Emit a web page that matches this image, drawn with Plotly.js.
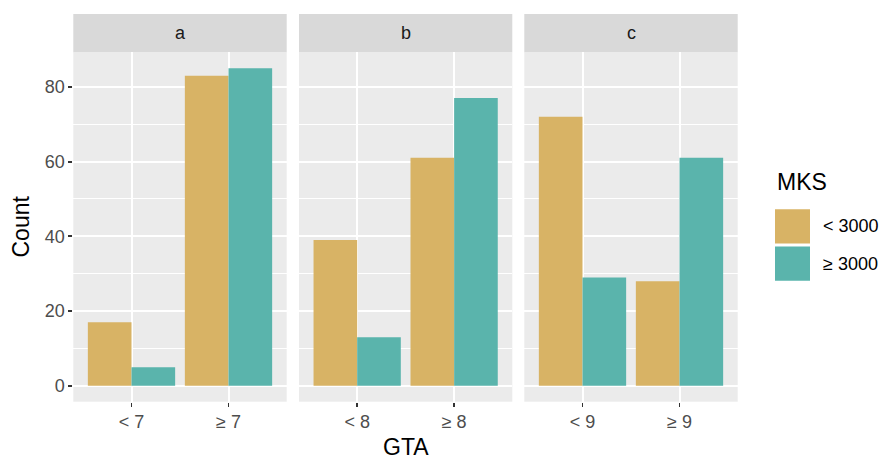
<!DOCTYPE html>
<html>
<head>
<meta charset="utf-8">
<script src="https://cdn.plot.ly/plotly-3.0.1.min.js"></script>
<style>html,body{margin:0;padding:0;background:#fff}#chart{width:886px;height:460px}</style>
</head>
<body>
<div id="chart"></div>
<script>
// ---- data ----
const panels = ['a', 'b', 'c'];
const catsA = ['< 7', '≥ 7'];
const catsB = ['< 8', '≥ 8'];
const catsC = ['< 9', '≥ 9'];
const lowA = [17, 83];   // MKS < 3000
const highA = [5, 85];   // MKS ≥ 3000
const lowB = [39, 61];
const highB = [13, 77];
const lowC = [72, 28];
const highC = [29, 61];
const seriesNames = ['< 3000', '≥ 3000'];
const yTicks = [0, 20, 40, 60, 80];

// ---- style ----
const colLow = '#D8B365';
const colHigh = '#5AB4AC';
const W = 886, H = 460;
const font = 'Liberation Sans, Arial, sans-serif';
const px = v => v / W;
const py = v => 1 - v / H;

const xDomains = [[73.3, 286.7], [299, 512.3], [524.3, 737.7]];
const yDomain = [py(401.7), py(52.3)];
const catSets = [catsA, catsB, catsC];
const lows = [lowA, lowB, lowC];
const highs = [highA, highB, highC];

const traces = [];
const layout = {
  width: W, height: H,
  margin: {l: 0, r: 0, t: 0, b: 0},
  paper_bgcolor: '#ffffff',
  plot_bgcolor: '#EBEBEB',
  barmode: 'group',
  bargap: 0.1,
  bargroupgap: 0,
  showlegend: false,
  font: {family: font, color: '#4D4D4D'},
  shapes: [],
  annotations: []
};

panels.forEach((p, i) => {
  const sfx = i === 0 ? '' : String(i + 1);
  const xa = 'x' + sfx, ya = 'y' + sfx;
  traces.push({type: 'bar', x: catSets[i], y: lows[i], name: seriesNames[0], xaxis: xa, yaxis: ya,
    marker: {color: colLow, line: {width: 0}}, hoverinfo: 'skip'});
  traces.push({type: 'bar', x: catSets[i], y: highs[i], name: seriesNames[1], xaxis: xa, yaxis: ya,
    marker: {color: colHigh, line: {width: 0}}, hoverinfo: 'skip'});
  layout['xaxis' + sfx] = {
    domain: [px(xDomains[i][0]), px(xDomains[i][1])],
    anchor: ya, type: 'category', range: [-0.6, 1.6],
    showgrid: true, gridcolor: '#FFFFFF', gridwidth: 2,
    zeroline: false, showline: false,
    ticks: 'outside', ticklen: 4, tickwidth: 1.8, tickcolor: '#333333',
    tickfont: {family: font, size: 18, color: '#4D4D4D'},
    fixedrange: true
  };
  layout['yaxis' + sfx] = {
    domain: yDomain, anchor: xa, range: [-4.25, 89.25],
    tickvals: yTicks, ticktext: yTicks.map(String),
    showticklabels: i === 0,
    ticks: i === 0 ? 'outside' : '', ticklen: 4, tickwidth: 1.8, tickcolor: '#333333',
    tickfont: {family: font, size: 18, color: '#4D4D4D'},
    showgrid: true, gridcolor: '#FFFFFF', gridwidth: 2,
    minor: {dtick: 10, tick0: 0, showgrid: true, gridcolor: '#FFFFFF', gridwidth: 1},
    zeroline: false, showline: false, fixedrange: true
  };
  // strip
  layout.shapes.push({type: 'rect', xref: 'paper', yref: 'paper',
    x0: px(xDomains[i][0]), x1: px(xDomains[i][1]), y0: py(52.3), y1: py(14),
    fillcolor: '#D9D9D9', line: {width: 0}, layer: 'below'});
  layout.annotations.push({xref: 'paper', yref: 'paper',
    x: px((xDomains[i][0] + xDomains[i][1]) / 2), y: py(33),
    text: p, showarrow: false, xanchor: 'center', yanchor: 'middle',
    font: {family: font, size: 18, color: '#1A1A1A'}});
});

// axis titles
layout.annotations.push({xref: 'paper', yref: 'paper', x: px(20.5), y: py(227),
  text: 'Count', textangle: -90, showarrow: false, xanchor: 'center', yanchor: 'middle',
  font: {family: font, size: 23, color: '#000000'}});
layout.annotations.push({xref: 'paper', yref: 'paper', x: px(405.5), y: py(446.5),
  text: 'GTA', showarrow: false, xanchor: 'center', yanchor: 'middle',
  font: {family: font, size: 23, color: '#000000'}});

// legend (drawn manually to match ggplot key size)
layout.annotations.push({xref: 'paper', yref: 'paper', x: px(775), y: py(182),
  text: 'MKS', showarrow: false, xanchor: 'left', yanchor: 'middle',
  font: {family: font, size: 23, color: '#000000'}});
const keyCols = [colLow, colHigh];
const keyY = [[209.3, 243.6], [246.6, 280.8]];
seriesNames.forEach((n, k) => {
  layout.shapes.push({type: 'rect', xref: 'paper', yref: 'paper',
    x0: px(775), x1: px(810), y0: py(keyY[k][1]), y1: py(keyY[k][0]),
    fillcolor: keyCols[k], line: {width: 0}});
  layout.annotations.push({xref: 'paper', yref: 'paper', x: px(821), y: py((keyY[k][0] + keyY[k][1]) / 2),
    text: n, showarrow: false, xanchor: 'left', yanchor: 'middle',
    font: {family: font, size: 18, color: '#000000'}});
});

Plotly.newPlot('chart', traces, layout, {displayModeBar: false, staticPlot: true});
</script>
</body>
</html>
